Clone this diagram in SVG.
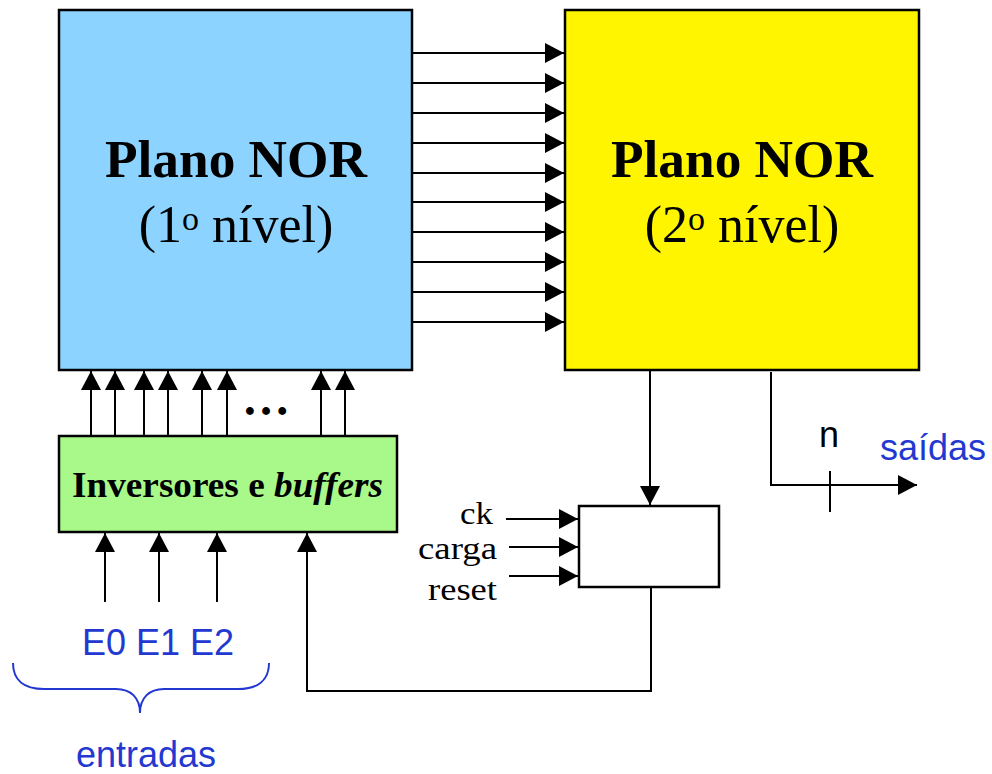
<svg xmlns="http://www.w3.org/2000/svg" width="992" height="774" viewBox="0 0 992 774">
<style>
.box{stroke:#000;stroke-width:2.5}
.ln{fill:none;stroke:#000;stroke-width:2}
.arr{fill:none;stroke:#000;stroke-width:2;marker-end:url(#ah)}
.big{font-family:"Liberation Serif","Times New Roman",serif;font-size:52px;fill:#000;text-anchor:middle}
.ser{font-family:"Liberation Serif","Times New Roman",serif;fill:#000}
.sans{font-family:"Liberation Sans",Arial,sans-serif;font-size:36px}
.blue{fill:#2338D0}
</style>
<defs>
<marker id="ah" markerUnits="userSpaceOnUse" markerWidth="20" markerHeight="20" refX="19" refY="10" orient="auto">
<path d="M0,0 L19,10 L0,20 Z" fill="#000"/>
</marker>
</defs>
<rect width="992" height="774" fill="#fff"/>

<g id="nor1">
<rect class="box" x="59" y="10" width="353" height="360" fill="#8CD3FF"/>
<text class="big" x="236" y="177" font-weight="bold" textLength="262" lengthAdjust="spacingAndGlyphs">Plano NOR</text>
<text class="big" x="236" y="242">(1<tspan font-size="34" dy="-12">o</tspan><tspan dy="12"> nível)</tspan></text>
</g>

<g id="nor2">
<rect class="box" x="565" y="10" width="354" height="360" fill="#FFF500"/>
<text class="big" x="742" y="177" font-weight="bold" textLength="262" lengthAdjust="spacingAndGlyphs">Plano NOR</text>
<text class="big" x="742" y="242">(2<tspan font-size="34" dy="-12">o</tspan><tspan dy="12"> nível)</tspan></text>
</g>

<g id="inv">
<rect class="box" x="59" y="436" width="338" height="96" fill="#A8F88A"/>
<text class="ser" x="72" y="497" font-size="36" font-weight="bold" textLength="311" lengthAdjust="spacingAndGlyphs">Inversores e <tspan font-style="italic">buffers</tspan></text>
</g>

<g id="reg">
<rect class="box" x="579" y="506" width="140" height="81" fill="#fff"/>
</g>

<g id="labels">
<text class="ser" x="460" y="523.5" font-size="32" textLength="33" lengthAdjust="spacingAndGlyphs">ck</text>
<text class="ser" x="418" y="559" font-size="32" textLength="79" lengthAdjust="spacingAndGlyphs">carga</text>
<text class="ser" x="428" y="600" font-size="32" textLength="69" lengthAdjust="spacingAndGlyphs">reset</text>
<text class="ser" x="266" y="415" font-size="48" font-weight="bold" text-anchor="middle">…</text>
<text class="sans" x="829" y="447" text-anchor="middle" fill="#000">n</text>
<text class="sans blue" x="880" y="460">saídas</text>
<text class="sans blue" x="82" y="655">E0 E1 E2</text>
<text class="sans blue" x="146" y="767" text-anchor="middle">entradas</text>
</g>

<g id="connectors">
<path class="arr" d="M412,53 H564"/>
<path class="arr" d="M412,83 H564"/>
<path class="arr" d="M412,113 H564"/>
<path class="arr" d="M412,143 H564"/>
<path class="arr" d="M412,173 H564"/>
<path class="arr" d="M412,202 H564"/>
<path class="arr" d="M412,232 H564"/>
<path class="arr" d="M412,262 H564"/>
<path class="arr" d="M412,292 H564"/>
<path class="arr" d="M412,322 H564"/>

<path class="arr" d="M91,436 V371"/>
<path class="arr" d="M115,436 V371"/>
<path class="arr" d="M144,436 V371"/>
<path class="arr" d="M168,436 V371"/>
<path class="arr" d="M202,436 V371"/>
<path class="arr" d="M227,436 V371"/>
<path class="arr" d="M321,436 V371"/>
<path class="arr" d="M345,436 V371"/>

<path class="arr" d="M105,602 V533"/>
<path class="arr" d="M159,602 V533"/>
<path class="arr" d="M217,602 V533"/>
<path class="arr" d="M651,587 V691 H307 V533"/>

<path class="arr" d="M650,370 V505"/>

<path class="arr" d="M506,519 H578"/>
<path class="arr" d="M509,547 H578"/>
<path class="arr" d="M509,576 H578"/>

<path class="arr" d="M771,372 V485 H917"/>
<path class="ln" d="M830,471 V512"/>

<path d="M13,663 C13,680 24,689 44,689 L116,689 C131,689 140,698 140,713 C140,698 149,689 164,689 L238,689 C258,689 269,680 269,663" fill="none" stroke="#2338D0" stroke-width="2"/>
</g>
</svg>
